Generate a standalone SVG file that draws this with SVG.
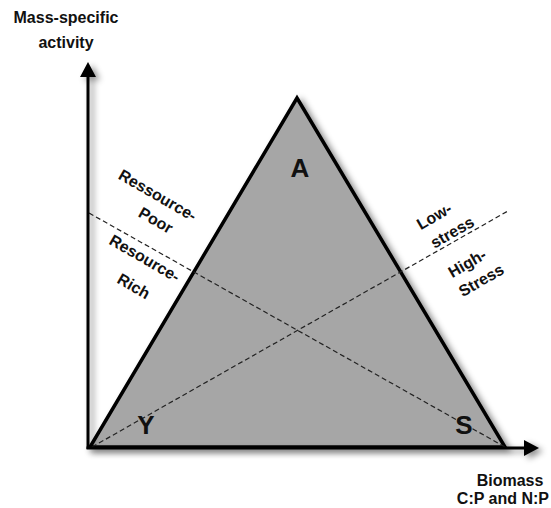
<svg xmlns="http://www.w3.org/2000/svg" width="551" height="508" viewBox="0 0 551 508">
<style>
text{font-family:"Liberation Sans",Arial,sans-serif;font-weight:bold;fill:#111}
.lab{font-size:16px;text-anchor:middle}
.big{font-size:26px;text-anchor:middle}
.dash{stroke:#222;stroke-width:1.2;stroke-dasharray:5,3;fill:none}
.axis{stroke:#000;stroke-width:3;fill:none}
</style>
<defs>
<filter id="sh" x="-10%" y="-10%" width="130%" height="130%">
<feDropShadow dx="4" dy="3" stdDeviation="3" flood-color="#000" flood-opacity="0.45"/>
</filter>
</defs>
<rect width="551" height="508" fill="#fff"/>
<g id="triangle">
<polygon points="297,98 505,447 90,447" fill="#a6a6a6" stroke="#000" stroke-width="3.5" stroke-linejoin="miter" filter="url(#sh)"/>
</g>
<g id="connectors">
<line class="dash" x1="89" y1="213" x2="505" y2="447"/>
<line class="dash" x1="92" y1="447" x2="508" y2="211"/>
</g>
<g id="axes" filter="url(#sh)">
<line class="axis" x1="88" y1="449" x2="88" y2="75"/>
<polygon points="88,62 80,77 96,77" fill="#000"/>
<line class="axis" x1="86.5" y1="448" x2="525" y2="448"/>
<polygon points="539,448 524,440 524,456" fill="#000"/>
</g>
<g id="labels">
<text class="big" x="300" y="177">A</text>
<text class="big" x="146" y="434">Y</text>
<text class="big" x="464" y="434">S</text>
<text class="lab" x="66" y="23">Mass-specific</text>
<text class="lab" x="66" y="48">activity</text>
<text class="lab" x="510" y="486">Biomass</text>
<text class="lab" x="549" y="504" text-anchor="end" style="text-anchor:end">C:P and N:P</text>
<text class="lab" transform="translate(155,200) rotate(30)">Ressource-</text>
<text class="lab" transform="translate(153,225) rotate(30)">Poor</text>
<text class="lab" transform="translate(142,263) rotate(30)">Resource-</text>
<text class="lab" transform="translate(131,291) rotate(30)">Rich</text>
<text class="lab" transform="translate(437,221) rotate(-30)">Low-</text>
<text class="lab" transform="translate(455,237) rotate(-30)">stress</text>
<text class="lab" transform="translate(470,268) rotate(-30)">High-</text>
<text class="lab" transform="translate(484,285) rotate(-30)">Stress</text>
</g>
</svg>
